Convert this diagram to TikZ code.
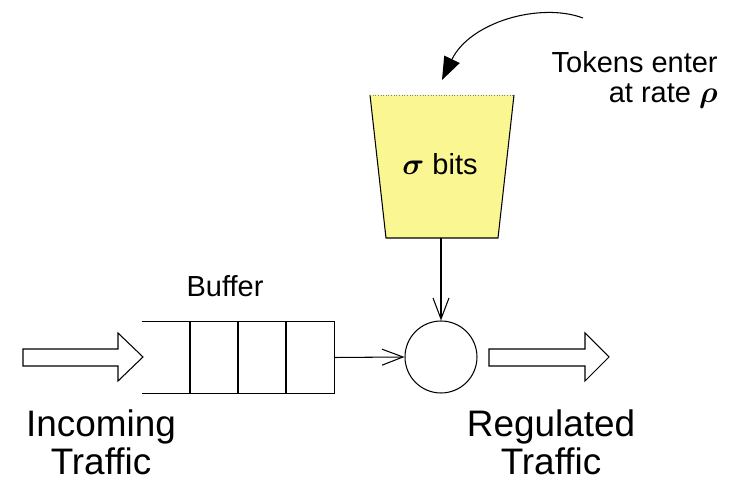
\documentclass[tikz,border=0pt]{standalone}
\usepackage{fontspec}
\setmainfont{Liberation Sans}
\usepackage{amsmath}
\usepackage{bm}
\usetikzlibrary{arrows.meta}
\definecolor{bucketyellow}{RGB}{250,246,146}

\begin{document}
\begin{tikzpicture}[
    x=0.02cm, y=-0.02cm,
    wire/.style={black, line width=0.6pt},
    feed/.style={wire, -{Straight Barb[length=0.42cm, width=0.32cm, line width=0.6pt]}},
    drop/.style={wire, -{Triangle[length=0.46cm, width=0.34cm]}},
    blockarrow/.style={black, line width=0.6pt, fill=white, line join=miter},
    lbl/.style={font=\fontsize{16.5}{17.6}\selectfont, inner sep=0pt},
    biglbl/.style={font=\fontsize{21}{22.1}\selectfont, align=center, inner sep=0pt}
]
\useasboundingbox (0,0) rectangle (748,482);

% =========================================================
% TOKEN BUCKET
% =========================================================
\fill[bucketyellow] (370,95) -- (514,95) -- (498,238) -- (386,238) -- cycle;
\draw[wire] (370,95) -- (386,238) -- (498,238) -- (514,95);
\draw[gray, line width=0.5pt, densely dotted] (370,95) -- (514,95);
\node[lbl, anchor=base] (bits) at (440,175) {$\bm{\sigma}$ bits};
\coordinate (bucketout) at (441,238);

% tokens dropping in (base anchor sits on the last line)
\node[lbl, align=right, anchor=base east] (tokens) at (718,103)
      {Tokens enter\\at rate $\bm{\rho}$};
\coordinate (arcstart) at (583,18);
\coordinate (dropin) at (442,80);
\draw[drop] (arcstart) .. controls (540,2) and (470,22) .. (dropin);

% =========================================================
% BUFFER AND SERVER
% =========================================================
\node[minimum width=3.84cm, minimum height=1.42cm, inner sep=0pt] (buffer) at (238,357.5) {};
\draw[wire] (buffer.north west) -| (buffer.south east) -- (buffer.south west);
\foreach \xx in {190,238,286}
  \draw[wire] (\xx,322) -- (\xx,393);
\node[lbl, anchor=base] (bufferlbl) at (225,297) {Buffer};

\node[circle, draw, line width=0.6pt, minimum size=1.44cm, inner sep=0pt] (server) at (441,357) {};

\draw[feed] (buffer.east) -- (server.west);
\draw[feed] (bucketout) -- (server.north);

% =========================================================
% TRAFFIC IN AND OUT
% =========================================================
\draw[blockarrow] (23,349) -- (118,349) -- (118,333) -- (143,357)
      -- (118,381) -- (118,366) -- (23,366) -- cycle;
\draw[blockarrow] (489,349) -- (585,349) -- (585,333) -- (609,357)
      -- (585,381) -- (585,366) -- (489,366) -- cycle;

\node[biglbl, anchor=base] (incoming) at (101,475) {Incoming\\Traffic};
\node[biglbl, anchor=base] (regulated) at (551,475) {Regulated\\Traffic};

\end{tikzpicture}
\end{document}
